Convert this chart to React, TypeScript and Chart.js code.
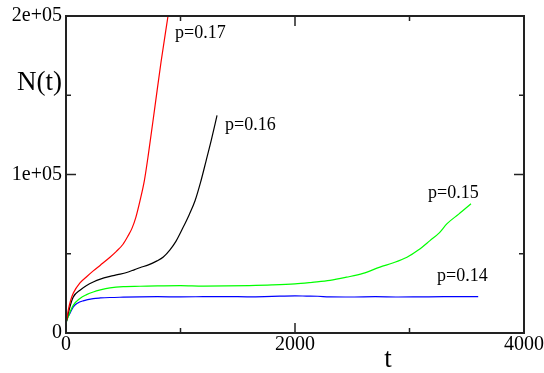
import React, { useEffect, useRef } from "react";
import { Chart, registerables } from "chart.js";

Chart.register(...registerables);

// p = 0.17 (red)
const tRed = [0, 10, 20, 40, 64, 122, 180, 238, 300, 384, 440, 498, 540, 576, 610, 646, 684, 720, 777, 830, 891, 910];
const nRed = [6000, 10000, 14400, 20500, 25200, 31600, 35500, 39200, 42800, 47800, 51500, 56000, 61000, 66000, 73000, 83400, 96000, 113000, 143000, 171000, 200000, 209000];

// p = 0.16 (black)
const tBlack = [0, 10, 20, 40, 64, 122, 180, 238, 300, 384, 450, 530, 600, 650, 720, 795, 850, 908, 960, 1022, 1075, 1127, 1175, 1223, 1270, 1319];
const nBlack = [6000, 9500, 12350, 18000, 22800, 27000, 30000, 32200, 34000, 35700, 36800, 38200, 40000, 41300, 43000, 45500, 48000, 52500, 57800, 66500, 74500, 83400, 95000, 108500, 122000, 137300];

// p = 0.15 (green)
const tGreen = [0, 10, 20, 40, 64, 122, 180, 238, 300, 384, 500, 646, 800, 1000, 1200, 1400, 1600, 1800, 2000, 2150, 2306, 2450, 2594, 2742, 2860, 2978, 3080, 3179, 3260, 3328, 3430, 3537];
const nGreen = [6000, 8500, 10200, 14000, 17600, 21800, 24200, 25900, 27200, 28500, 29300, 29500, 29700, 29900, 29600, 29700, 29900, 30300, 31000, 32000, 33200, 35200, 37600, 41600, 44300, 47800, 52500, 58300, 63200, 69000, 75000, 81500];

// p = 0.14 (blue)
const tBlue = [0, 10, 20, 35, 64, 100, 150, 238, 300, 384, 500, 646, 800, 1000, 1200, 1400, 1600, 1800, 2000, 2100, 2200, 2300, 2500, 2700, 2900, 3100, 3300, 3500, 3600];
const nBlue = [6000, 9000, 10500, 12500, 16500, 18800, 20300, 21700, 22100, 22400, 22600, 22800, 22900, 22800, 22900, 23000, 22800, 23100, 23400, 23300, 23200, 22800, 22700, 22900, 22700, 22800, 22900, 22900, 22900];

const seriesColors = ["#ff0000", "#000000", "#00ff00", "#0000ff"];
const seriesLabels = ["p=0.17", "p=0.16", "p=0.15", "p=0.14"];
const labelT = [952, 1389, 3162, 3240];
const labelN = [186200, 127900, 85450, 32800];

const xMajor = [0, 2000, 4000];
const xMinor = [1000, 3000];
const yMajor = [0, 100000, 200000];
const yMinor = [50000, 150000];
const yTickLabels = ["0", "1e+05", "2e+05"];

const xTitle = "t";
const yTitle = "N(t)";

const SERIF = "'Liberation Serif', 'Times New Roman', serif";

function pts(t: number[], n: number[]) {
  return t.map((x, i) => ({ x, y: n[i] }));
}

export default function App() {
  const ref = useRef<HTMLCanvasElement>(null);

  useEffect(() => {
    const framePlugin = {
      id: "framePlugin",
      afterDraw(chart: any) {
        const { ctx, chartArea } = chart;
        const xs = chart.scales.x;
        const ys = chart.scales.y;
        const { left, right, top, bottom } = chartArea;
        ctx.save();
        ctx.strokeStyle = "#222";
        ctx.lineWidth = 1.5;
        const tick = (x1: number, y1: number, x2: number, y2: number) => {
          ctx.beginPath();
          ctx.moveTo(x1, y1);
          ctx.lineTo(x2, y2);
          ctx.stroke();
        };
        xMajor.forEach((v) => {
          const x = xs.getPixelForValue(v);
          tick(x, bottom, x, bottom - 10);
          tick(x, top, x, top + 10);
        });
        xMinor.forEach((v) => {
          const x = xs.getPixelForValue(v);
          tick(x, bottom, x, bottom - 5);
          tick(x, top, x, top + 5);
        });
        yMajor.forEach((v) => {
          const y = ys.getPixelForValue(v);
          tick(left, y, left + 10, y);
          tick(right, y, right - 10, y);
        });
        yMinor.forEach((v) => {
          const y = ys.getPixelForValue(v);
          tick(left, y, left + 5, y);
          tick(right, y, right - 5, y);
        });
        ctx.lineWidth = 2;
        ctx.strokeRect(left, top, right - left, bottom - top);

        // series labels
        ctx.fillStyle = "#000";
        ctx.font = `18px ${SERIF}`;
        ctx.textAlign = "left";
        ctx.textBaseline = "alphabetic";
        seriesLabels.forEach((s, i) => {
          ctx.fillText(s, xs.getPixelForValue(labelT[i]), ys.getPixelForValue(labelN[i]));
        });

        // axis titles
        ctx.font = `27px ${SERIF}`;
        ctx.textAlign = "left";
        ctx.fillText(yTitle, 17, 90);
        ctx.font = `27px ${SERIF}`;
        ctx.textAlign = "center";
        ctx.fillText(xTitle, 388, 367);
        ctx.restore();
      },
    };

    const mk = (t: number[], n: number[], i: number) => ({
      label: seriesLabels[i],
      data: pts(t, n),
      borderColor: seriesColors[i],
      backgroundColor: seriesColors[i],
      borderWidth: 1.2,
      pointRadius: 0,
      cubicInterpolationMode: "monotone",
      fill: false,
    });

    const chart = new Chart(ref.current as HTMLCanvasElement, {
      type: "line",
      data: {
        datasets: [
          mk(tRed, nRed, 0),
          mk(tBlack, nBlack, 1),
          mk(tGreen, nGreen, 2),
          mk(tBlue, nBlue, 3),
        ],
      },
      options: {
        animation: false,
        responsive: false,
        layout: { padding: { top: 14, right: 20, left: 0, bottom: 0 } },
        plugins: { legend: { display: false }, tooltip: { enabled: false } },
        scales: {
          x: {
            type: "linear",
            min: 0,
            max: 4000,
            ticks: {
              stepSize: 2000,
              color: "#000",
              padding: 0,
              maxRotation: 0,
              font: { family: SERIF, size: 20 },
              callback: (v: any) => String(v),
            },
            grid: { display: false, drawTicks: false },
            border: { display: false },
            afterFit(s: any) {
              s.height = 40;
            },
          },
          y: {
            type: "linear",
            min: 0,
            max: 200000,
            ticks: {
              stepSize: 100000,
              color: "#000",
              padding: 4,
              font: { family: SERIF, size: 20 },
              callback: (v: any) => {
                const idx = yMajor.indexOf(Number(v));
                return idx >= 0 ? yTickLabels[idx] : "";
              },
            },
            grid: { display: false, drawTicks: false },
            border: { display: false },
            afterFit(s: any) {
              s.width = 66;
            },
          },
        },
      } as any,
      plugins: [framePlugin],
    });
    return () => chart.destroy();
  }, []);

  return (
    <div style={{ position: "fixed", left: 0, top: 0, width: 544, height: 373, background: "#fff" }}>
      <canvas ref={ref} width={544} height={373} style={{ display: "block" }} />
    </div>
  );
}
